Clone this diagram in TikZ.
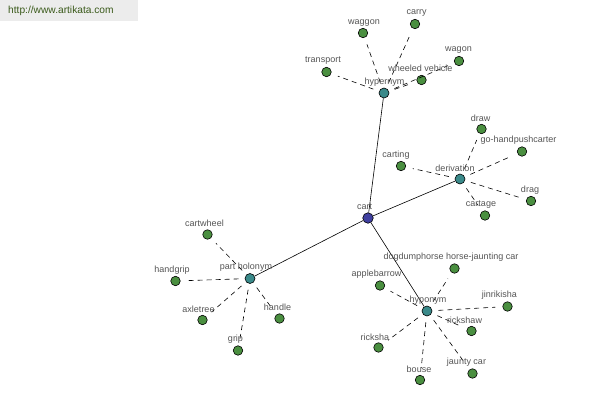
\documentclass[tikz,border=0pt]{standalone}
\usepackage{fontspec}
\setmainfont{Liberation Sans}
\begin{document}
\begin{tikzpicture}[x=1pt,y=-1pt,
  leaf/.style={circle,draw=black,line width=0.6pt,fill=leafgreen,minimum size=9.5pt,inner sep=0pt},
  hub/.style={circle,draw=black,line width=0.6pt,fill=hubteal,minimum size=10pt,inner sep=0pt},
  root/.style={circle,draw=black,line width=0.6pt,fill=rootblue,minimum size=10.5pt,inner sep=0pt},
  lbl/.style={text=labelgray,font=\fontsize{9pt}{10pt}\selectfont,inner sep=0pt},
  solidedge/.style={draw=black,line width=0.6pt},
  dashedge/.style={draw=black,line width=0.6pt,dash pattern=on 5pt off 4pt,shorten <=6pt,shorten >=7pt}]
\definecolor{leafgreen}{HTML}{4A8F40}
\definecolor{hubteal}{HTML}{3A8A8A}
\definecolor{rootblue}{HTML}{4040A0}
\definecolor{labelgray}{HTML}{555555}
\definecolor{headtext}{HTML}{3A5A1A}
\definecolor{headbg}{HTML}{ECECEC}
\useasboundingbox (0,0) rectangle (600,400);
\fill[white] (0,0) rectangle (600,400);
\fill[headbg] (0,0) rectangle (138,21);
\node[text=headtext,font=\fontsize{10.2pt}{11pt}\selectfont,anchor=west,inner sep=0pt] (url) at (8,11) {http://www.artikata.com};

% hubs
\node[root] (cart) at (368,218) {};
\node[hub] (hyper) at (384,93) {};
\node[hub] (deriv) at (460,179) {};
\node[hub] (holo) at (250,278.5) {};
\node[hub] (hypo) at (427,311) {};

% hypernym leaves
\node[leaf] (transport) at (326.5,72) {};
\node[leaf] (waggon) at (363,33) {};
\node[leaf] (carry) at (415,24) {};
\node[leaf] (wagon) at (459,61) {};
\node[leaf] (wheeled) at (421.5,80) {};
% derivation leaves
\node[leaf] (draw) at (481.5,129) {};
\node[leaf] (gohand) at (522,151.5) {};
\node[leaf] (carting) at (401,166) {};
\node[leaf] (drag) at (531,201) {};
\node[leaf] (cartage) at (485,215.5) {};
% part holonym leaves
\node[leaf] (cartwheel) at (207.5,234.5) {};
\node[leaf] (handgrip) at (175.5,281) {};
\node[leaf] (axletree) at (202.5,320) {};
\node[leaf] (handle) at (279.5,318.5) {};
\node[leaf] (grip) at (238,350.5) {};
% hyponym leaves
\node[leaf] (dogdump) at (454.5,268.5) {};
\node[leaf] (applebarrow) at (380,285.5) {};
\node[leaf] (jinrikisha) at (507.5,306.5) {};
\node[leaf] (rickshaw) at (471.5,331) {};
\node[leaf] (ricksha) at (378.5,347.5) {};
\node[leaf] (jaunty) at (472.5,373.5) {};
\node[leaf] (bouse) at (420,380) {};

% solid edges
\draw[solidedge] (cart) -- (hyper);
\draw[solidedge] (cart) -- (deriv);
\draw[solidedge] (cart) -- (holo);
\draw[solidedge] (cart) -- (hypo);

% dashed edges
\foreach \l in {transport,waggon,carry,wagon,wheeled} \draw[dashedge] (hyper) -- (\l);
\foreach \l in {draw,gohand,carting,drag,cartage} \draw[dashedge] (deriv) -- (\l);
\foreach \l in {cartwheel,handgrip,axletree,handle,grip} \draw[dashedge] (holo) -- (\l);
\foreach \l in {dogdump,applebarrow,jinrikisha,rickshaw,ricksha,jaunty,bouse} \draw[dashedge] (hypo) -- (\l);

% labels
\node[lbl] (lcart) at (364.5,207) {cart};
\node[lbl] (lhyper) at (384.5,82) {hypernym};
\node[lbl] (lderiv) at (455,168) {derivation};
\node[lbl] (lholo) at (246,267) {part holonym};
\node[lbl] (lhypo) at (428,300.5) {hyponym};

\node[lbl] (ltransport) at (323,61) {transport};
\node[lbl] (lwaggon) at (364,23) {waggon};
\node[lbl] (lcarry) at (416.5,13.5) {carry};
\node[lbl] (lwagon) at (458.5,50) {wagon};
\node[lbl] (lwheeled) at (420.5,68.5) {wheeled vehicle};

\node[lbl] (ldraw) at (480.5,118) {draw};
\node[lbl] (lgohand) at (518.5,140) {go-handpushcarter};
\node[lbl] (lcarting) at (396,155) {carting};
\node[lbl] (ldrag) at (530,190) {drag};
\node[lbl] (lcartage) at (481,205) {cartage};

\node[lbl] (lcartwheel) at (204.5,223) {cartwheel};
\node[lbl] (lhandgrip) at (172,270) {handgrip};
\node[lbl] (laxletree) at (198.5,309) {axletree};
\node[lbl] (lhandle) at (277.5,307) {handle};
\node[lbl] (lgrip) at (235.5,339) {grip};

\node[lbl] (ldogdump) at (451,257) {dogdumphorse horse-jaunting car};
\node[lbl] (lapplebarrow) at (376.5,274) {applebarrow};
\node[lbl] (ljinrikisha) at (499.5,295) {jinrikisha};
\node[lbl] (lrickshaw) at (464.5,320) {rickshaw};
\node[lbl] (lricksha) at (375,337.5) {ricksha};
\node[lbl] (ljaunty) at (466.5,362) {jaunty car};
\node[lbl] (lbouse) at (419,369) {bouse};
\end{tikzpicture}
\end{document}
